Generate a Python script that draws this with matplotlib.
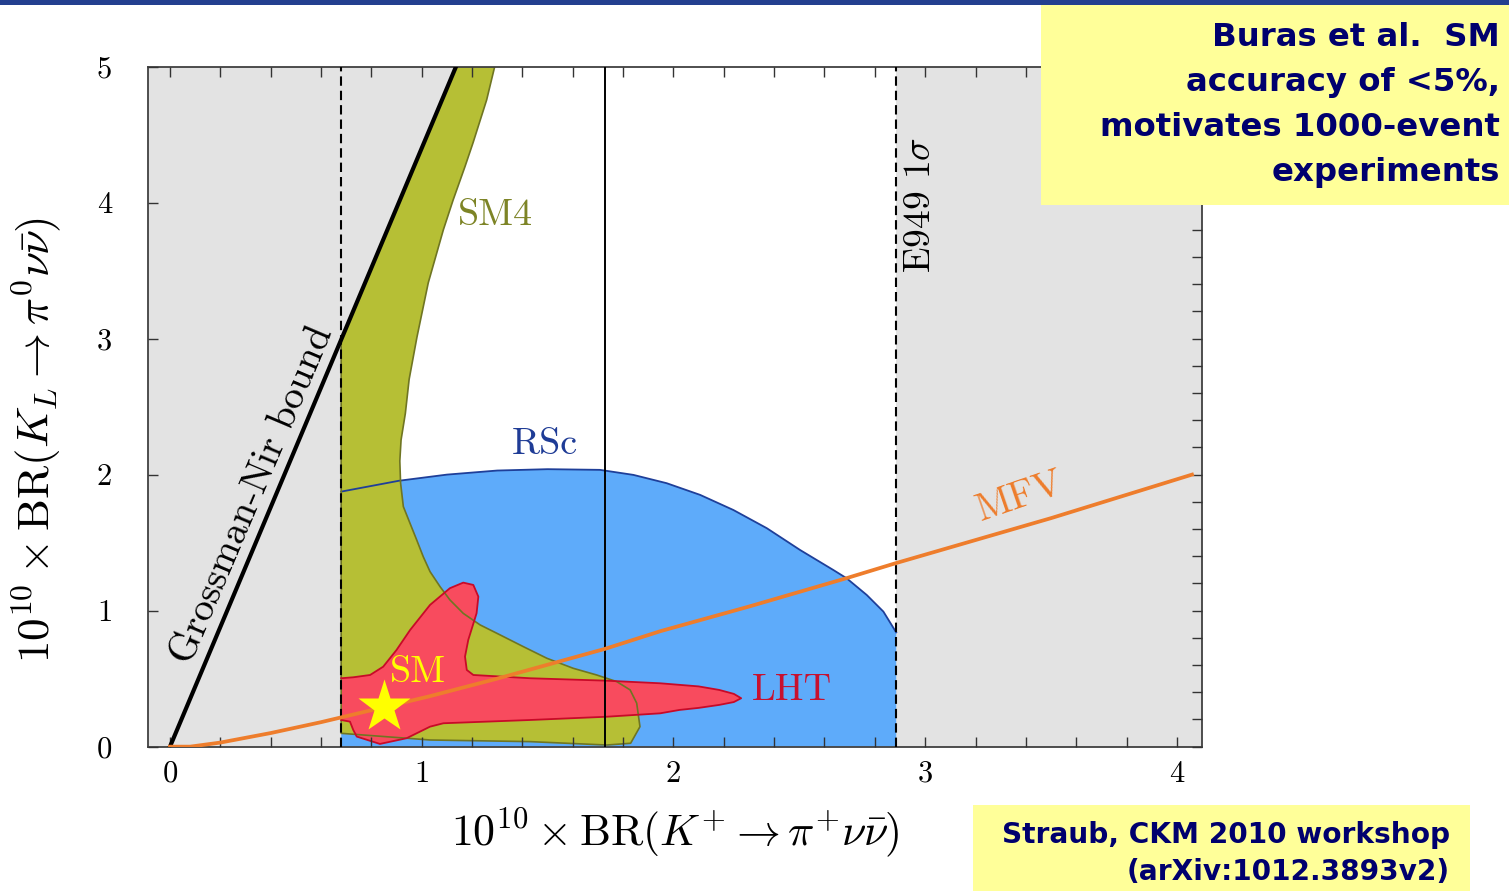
import matplotlib
matplotlib.use("Agg")
import matplotlib.pyplot as plt
from matplotlib.patches import Rectangle
from matplotlib.ticker import MultipleLocator

plt.rcParams["mathtext.fontset"] = "cm"

# E949 measurement of BR(K+ -> pi+ nu nubar): 1 sigma band and central value
e949_low = 0.68
e949_central = 1.73
e949_high = 2.885

# Grossman-Nir bound: BR(KL) < 4.4 BR(K+)
gn_slope = 4.4

# Minimal flavour violation correlation
mfv_x = [0.0, 0.08, 0.2, 0.4, 0.6, 0.85, 1.03, 1.3, 1.73, 1.95, 2.3, 2.69, 2.885, 3.5, 4.06]
mfv_y = [0.0, 0.0, 0.03, 0.1, 0.18, 0.29, 0.37, 0.5, 0.72, 0.85, 1.03, 1.24, 1.35, 1.68, 2.0]

# Randall-Sundrum with custodial protection: upper edge of allowed region
rsc_x = [0.68, 0.91, 1.1, 1.3, 1.5, 1.708, 1.841, 1.973, 2.106, 2.238, 2.371, 2.503,
         2.635, 2.688, 2.768, 2.834, 2.885]
rsc_y = [1.875, 1.955, 2.0, 2.03, 2.04, 2.035, 1.998, 1.937, 1.851, 1.74, 1.606, 1.446,
         1.299, 1.238, 1.115, 0.993, 0.84]

# Fourth generation (SM4) allowed region outline
sm4_x = [1.136, 0.68, 0.68, 1.033, 1.43, 1.735, 1.83, 1.867, 1.854, 1.828, 1.775, 1.695,
         1.602, 1.497, 1.404, 1.298, 1.232, 1.165, 1.112, 1.073, 1.033, 1.006, 0.98, 0.954,
         0.927, 0.916, 0.913, 0.918, 0.935, 0.95, 0.981, 1.026, 1.086, 1.125, 1.172, 1.204,
         1.258, 1.29]
sm4_y = [5.0, 2.99, 0.098, 0.049, 0.037, 0.012, 0.025, 0.147, 0.32, 0.417, 0.478, 0.527,
         0.576, 0.65, 0.735, 0.834, 0.895, 0.98, 1.079, 1.176, 1.287, 1.397, 1.52, 1.64,
         1.765, 1.94, 2.1, 2.255, 2.45, 2.7, 3.01, 3.41, 3.8, 4.02, 4.265, 4.44,
         4.755, 5.0]

# Littlest Higgs with T-parity (LHT) allowed region outline
lht_x = [0.68, 0.728, 0.795, 0.847, 0.9, 0.954, 1.033, 1.112, 1.165, 1.205, 1.225, 1.218,
         1.185, 1.172, 1.179, 1.205, 1.43, 1.735, 1.947, 2.1, 2.182, 2.24, 2.269, 2.24,
         2.182, 2.1, 2.024, 1.947, 1.735, 1.43, 1.086, 1.033, 0.94, 0.834, 0.742, 0.728,
         0.715, 0.68]
lht_y = [0.503, 0.51, 0.527, 0.588, 0.711, 0.858, 1.042, 1.165, 1.206, 1.189, 1.103, 0.981,
         0.785, 0.662, 0.564, 0.527, 0.503, 0.485, 0.466, 0.443, 0.417, 0.388, 0.356, 0.328,
         0.307, 0.285, 0.27, 0.245, 0.22, 0.196, 0.172, 0.147, 0.062, 0.02, 0.074, 0.123,
         0.184, 0.196]

# Standard Model prediction
sm_x, sm_y = 0.85, 0.29

xticks = [0, 1, 2, 3, 4]
yticks = [0, 1, 2, 3, 4, 5]
xlim = (-0.086, 4.10)
ylim = (0.0, 5.0)

GREY = "#e3e3e3"
BLUE = "#5eabfa"
BLUE_EDGE = "#1f3f99"
OLIVE = "#b6bf35"
OLIVE_EDGE = "#6f7522"
RED = "#f84b5e"
RED_EDGE = "#c80a28"
ORANGE = "#ee7d2c"

fig = plt.figure(figsize=(15.09, 8.91), dpi=100)
ax = fig.add_axes([0.0983, 0.162, 0.6983, 0.7633])
ax.set_xlim(*xlim)
ax.set_ylim(*ylim)
ax.set_axisbelow(False)

# excluded regions
x_gn_top = ylim[1] / gn_slope
ax.fill([xlim[0], e949_low, e949_low, x_gn_top, xlim[0]],
        [0, 0, gn_slope * e949_low, ylim[1], ylim[1]], color=GREY, lw=0, zorder=0.1)
ax.fill([e949_high, xlim[1], xlim[1], e949_high], [0, 0, ylim[1], ylim[1]],
        color=GREY, lw=0, zorder=0.1)

# model regions
ax.fill(rsc_x + [e949_high, e949_low], rsc_y + [0, 0], color=BLUE, lw=0, zorder=0.5)
ax.fill(sm4_x, sm4_y, color=OLIVE, lw=0, zorder=0.8)
ax.fill(lht_x, lht_y, color=RED, lw=0, zorder=1.0)
ax.plot(rsc_x, rsc_y, color=BLUE_EDGE, lw=1.3, zorder=1.5)
ax.plot(sm4_x + sm4_x[:1], sm4_y + sm4_y[:1], color=OLIVE_EDGE, lw=1.2, zorder=1.5)
ax.plot(lht_x, lht_y, color=RED_EDGE, lw=1.3, zorder=1.6)

# bounds and measurement lines
ax.plot([0, x_gn_top], [0, ylim[1]], color="black", lw=3.0, zorder=3)
for xv in (e949_low, e949_high):
    ax.axvline(xv, color="black", lw=1.5, ls=(0, (4.5, 2.4)), zorder=3)
ax.axvline(e949_central, color="black", lw=1.4, zorder=3)
ax.plot(mfv_x, mfv_y, color=ORANGE, lw=2.7, zorder=4)
ax.plot([sm_x], [sm_y], marker="*", ms=40, color="#ffff00", mec="none", zorder=5)

# labels in the plot
cm = "cmr10"
ax.text(0.33, 1.85, "Grossman-Nir bound", rotation=67, fontfamily=cm, fontsize=28.5,
        ha="center", va="center", rotation_mode="anchor", zorder=6)
ax.text(1.291, 3.909, "SM4", color="#7d8426", fontfamily=cm, fontsize=27.5,
        ha="center", va="center", zorder=6)
ax.text(1.49, 2.22, "RSc", color="#1f3c96", fontfamily=cm, fontsize=27.5,
        ha="center", va="center", zorder=6)
ax.text(2.471, 0.417, "LHT", color="#c8102e", fontfamily=cm, fontsize=27.5,
        ha="center", va="center", zorder=6)
ax.text(0.985, 0.549, "SM", color="#ffff00", fontfamily=cm, fontsize=27.5,
        ha="center", va="center", zorder=6)
ax.text(3.377, 1.836, "MFV", color=ORANGE, fontfamily=cm, fontsize=28, rotation=19,
        ha="center", va="center", rotation_mode="anchor", zorder=6)
ax.text(2.98, 3.98, r"E949 $1\sigma$", fontfamily=cm, fontsize=27, rotation=90,
        ha="center", va="center", zorder=6)

# axes styling
ax.set_xticks(xticks)
ax.set_yticks(yticks)
ax.set_xticklabels([str(t) for t in xticks], fontfamily=cm, fontsize=22)
ax.set_yticklabels([str(t) for t in yticks], fontfamily=cm, fontsize=22)
ax.xaxis.set_minor_locator(MultipleLocator(0.2))
ax.yaxis.set_minor_locator(MultipleLocator(0.2))
ax.tick_params(which="both", direction="in", top=True, right=True, length=7,
               width=1.0, color="#333333")
ax.tick_params(axis="y", which="minor", left=False)
ax.tick_params(axis="x", which="major", pad=10)
ax.tick_params(axis="y", which="major", pad=26)
for sp in ax.spines.values():
    sp.set_color("#404040")
    sp.set_linewidth(1.3)

fig.text(675 / 1509, 1 - 832 / 891,
         r"$10^{10}\times\mathrm{BR}(K^{+}\to\pi^{+}\nu\bar{\nu})$",
         fontsize=31.5, ha="center", va="center")
fig.text(37 / 1509, 1 - 440 / 891,
         r"$10^{10}\times\mathrm{BR}(K_{L}\to\pi^{0}\nu\bar{\nu})$",
         fontsize=32.5, ha="center", va="center", rotation=90)

# slide decorations: header bar and note boxes
fig.add_artist(Rectangle((0, 1 - 5 / 891), 1, 5 / 891, transform=fig.transFigure,
                         color="#233f8f", lw=0, zorder=0))
fig.add_artist(Rectangle((1041 / 1509, 1 - 205 / 891), 468 / 1509, 200 / 891,
                         transform=fig.transFigure, color="#ffff99", lw=0, zorder=10))
fig.add_artist(Rectangle((973 / 1509, 0), 497 / 1509, 86 / 891,
                         transform=fig.transFigure, color="#ffff99", lw=0, zorder=10))

note_top = ["Buras et al.  SM", "accuracy of <5%,", "motivates 1000-event", "experiments"]
note_top_y = [38, 83, 128, 172]
for line, yp in zip(note_top, note_top_y):
    fig.text(1500 / 1509, 1 - yp / 891, line, ha="right", va="center", fontsize=23.3,
             fontweight="bold", family="DejaVu Sans", color="#00006e", zorder=11)

note_bottom = ["Straub, CKM 2010 workshop", "(arXiv:1012.3893v2)"]
note_bottom_y = [835, 872]
for line, yp in zip(note_bottom, note_bottom_y):
    fig.text(1450 / 1509, 1 - yp / 891, line, ha="right", va="center", fontsize=20.2,
             fontweight="bold", family="DejaVu Sans", color="#00006e", zorder=11)

fig.savefig("out.png", dpi=100, facecolor="white")
